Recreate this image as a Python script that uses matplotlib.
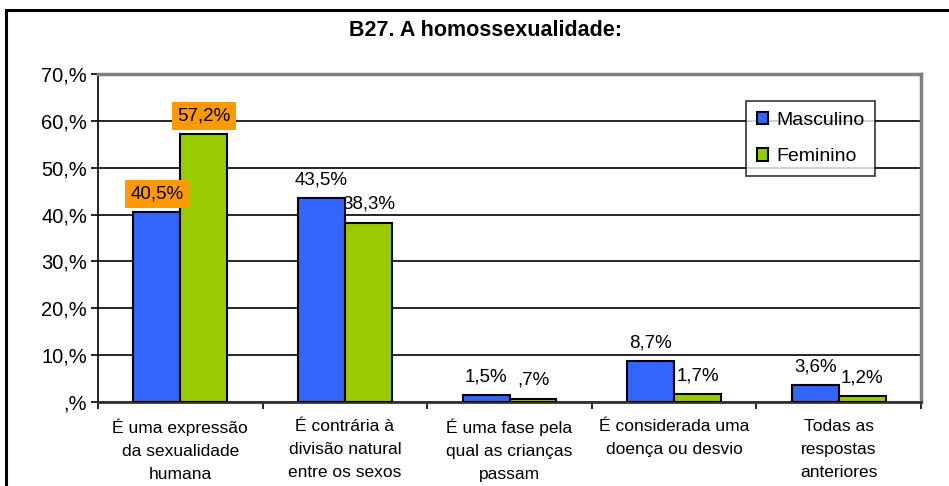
import matplotlib.pyplot as plt
import numpy as np
from matplotlib.patches import Rectangle

# dados
categorias = ['É uma expressão\nda sexualidade\nhumana',
              'É contrária à\ndivisão natural\nentre os sexos',
              'É uma fase pela\nqual as crianças\npassam',
              'É considerada uma\ndoença ou desvio',
              'Todas as\nrespostas\nanteriores']
masculino = [40.5, 43.5, 1.5, 8.7, 3.6]
feminino = [57.2, 38.3, 0.7, 1.7, 1.2]
rot_masc = ['40,5%', '43,5%', '1,5%', '8,7%', '3,6%']
rot_fem = ['57,2%', '38,3%', ',7%', '1,7%', '1,2%']
yticks = [0, 10, 20, 30, 40, 50, 60, 70]
ytick_labels = [',%', '10,%', '20,%', '30,%', '40,%', '50,%', '60,%', '70,%']

plt.rcParams['font.family'] = ['Liberation Sans', 'DejaVu Sans']
fonte_rot = ['Liberation Sans Narrow', 'Liberation Sans', 'DejaVu Sans']

azul = '#3366FF'
verde = '#99CC00'
laranja = '#FF9900'

fig = plt.figure(figsize=(9.49, 4.86), dpi=100)
ax = fig.add_axes([98/949, 1-402/486, (921-98)/949, (402-74)/486])

# moldura exterior
fig.patches.append(Rectangle((6/949, -0.1), 1.1, 1-10/486+0.1, transform=fig.transFigure,
                             fill=False, edgecolor='black', linewidth=2.2, clip_on=False))

x = np.arange(len(categorias))
w = 0.285
ax.bar(x - w/2, masculino, w, color=azul, edgecolor='black', linewidth=1.5,
       label='Masculino', zorder=3)
ax.bar(x + w/2, feminino, w, color=verde, edgecolor='black', linewidth=1.5,
       label='Feminino', zorder=3)

for i in range(len(categorias)):
    caixa = dict(boxstyle='square,pad=0.3', fc=laranja, ec='none') if i == 0 else None
    ax.annotate(rot_masc[i], (x[i] - w/2, masculino[i]), xytext=(0, 7),
                textcoords='offset points', ha='center', va='bottom',
                fontsize=13.5, family=fonte_rot, bbox=caixa, zorder=4)
    ax.annotate(rot_fem[i], (x[i] + w/2, feminino[i]), xytext=(0, 7),
                textcoords='offset points', ha='center', va='bottom',
                fontsize=13.5, family=fonte_rot, bbox=caixa, zorder=2)

ax.set_xlim(-0.5, len(categorias) - 0.5)
ax.set_ylim(0, 70)
ax.set_yticks(yticks)
ax.set_yticklabels(ytick_labels, fontsize=14.5)
ax.yaxis.grid(True, color='black', linewidth=1.2)
ax.set_axisbelow(True)

ax.set_xticks(x)
ax.set_xticklabels(categorias, fontsize=12.5, linespacing=1.68)
ax.set_xticks(np.arange(-0.5, len(categorias)), minor=True)
ax.tick_params(axis='x', which='major', length=0, pad=12)
ax.tick_params(axis='x', which='minor', length=5, width=1.2, direction='out')
ax.tick_params(axis='y', length=5, width=1.2, direction='out', pad=3)

ax.spines['left'].set_color('black')
ax.spines['left'].set_linewidth(1.2)
ax.spines['bottom'].set_color('#333333')
ax.spines['bottom'].set_linewidth(2)
ax.spines['top'].set_color('#808080')
ax.spines['top'].set_linewidth(2.5)
ax.spines['right'].set_color('#808080')
ax.spines['right'].set_linewidth(2.5)

fig.text(486/949, 1-30/486, 'B27. A homossexualidade:', ha='center', va='center',
         fontsize=15.5, fontweight='bold')

leg = ax.legend(loc='upper left', bbox_to_anchor=((746-98)/(921-98), 1-(101-74)/(402-74)),
                fontsize=14, frameon=True, fancybox=False, edgecolor='black',
                handlelength=0.6, handleheight=0.6, handletextpad=0.4,
                labelspacing=1.0, borderpad=0.55, borderaxespad=0)
leg.get_frame().set_linewidth(1.2)
for h in leg.legend_handles:
    h.set_linewidth(1.5)

fig.savefig('out.png', dpi=100)
